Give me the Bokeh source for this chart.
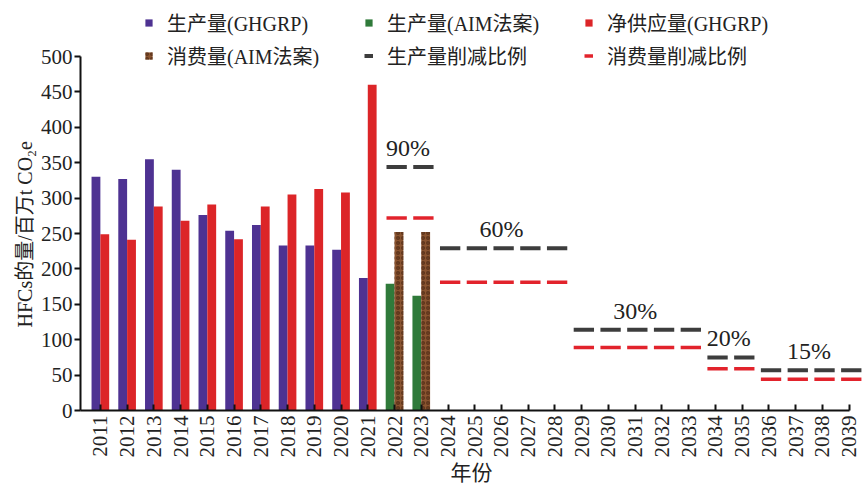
import numpy as np
from bokeh.plotting import figure
from bokeh.models import Range1d, Legend, LegendItem, FixedTicker, ColumnDataSource, Title
from bokeh.transform import dodge
from bokeh.core.properties import value
from bokeh.embed import file_html
from bokeh.resources import INLINE

# ---------------- data ----------------
years_hist = [2011, 2012, 2013, 2014, 2015, 2016, 2017, 2018, 2019, 2020, 2021]
prod_ghgrp = [330, 327, 355, 340, 276, 254, 262, 233, 233, 227, 187]
supply_ghgrp = [249, 241, 288, 268, 291, 242, 288, 305, 313, 308, 460]

years_aim = [2022, 2023]
prod_aim = [179, 162]
cons_aim = [252, 252]

cut_years = list(range(2022, 2040))
prod_cut = [344, 344, 229, 229, 229, 229, 229, 114, 114, 114, 114, 114, 75, 75, 57, 57, 57, 57]
cons_cut = [272, 272, 181, 181, 181, 181, 181, 89, 89, 89, 89, 89, 59, 59, 44, 44, 44, 44]

pct_labels = ["90%", "60%", "30%", "20%", "15%"]
pct_first = [2022, 2024, 2029, 2034, 2036]
pct_last = [2023, 2028, 2033, 2035, 2039]

all_years = list(range(2011, 2040))
y_ticks = list(range(0, 501, 50))

# ---------------- styles ----------------
SERIF = "Liberation Serif"
MIX = "Liberation Serif, Noto Sans CJK SC"
PURPLE = "#4e3292"
RED = "#dc2528"
GREEN = "#2f7a3a"
BROWN = "#8a5430"
GRAY = "#3d3d3d"
RED_DASH = "#e2232c"

W, H = 862, 488
BORDER_L, BORDER_B, BORDER_T = 80, 78, 4
frame_h = H - BORDER_B - BORDER_T          # pixels of the plotting frame
px_500 = 354                                # pixels from 0 to 500 on the y axis
y_top = 500 * frame_h / px_500              # frame extends above 500 to host the legend

p = figure(width=W, height=H, output_backend="svg", toolbar_location=None,
           x_range=Range1d(2010.257, 2039.5), y_range=Range1d(0, y_top),
           min_border_left=BORDER_L, min_border_right=0,
           min_border_top=BORDER_T, min_border_bottom=BORDER_B)
p.outline_line_color = None
p.xgrid.visible = False
p.ygrid.visible = False
p.background_fill_color = "white"
p.border_fill_color = "white"

src_hist = ColumnDataSource(dict(year=years_hist, prod=prod_ghgrp, supply=supply_ghgrp))
src_aim = ColumnDataSource(dict(year=years_aim, prod=prod_aim, cons=cons_aim))

r_prod = p.vbar(x=dodge("year", -0.165), top="prod", width=0.33, source=src_hist,
                fill_color=PURPLE, line_color=None)
r_supply = p.vbar(x=dodge("year", 0.165), top="supply", width=0.33, source=src_hist,
                  fill_color=RED, line_color=None)
r_aim = p.vbar(x=dodge("year", -0.165), top="prod", width=0.33, source=src_aim,
               fill_color=GREEN, line_color=None)
r_cons = p.vbar(x=dodge("year", 0.165), top="cons", width=0.33, source=src_aim,
                fill_color=BROWN, line_color=None, hatch_pattern="o",
                hatch_color="#4f2a14", hatch_scale=5, hatch_weight=1.5, hatch_alpha=0.75)

cy = np.array(cut_years, dtype=float)
src_cut = ColumnDataSource(dict(x0=cy - 0.3, x1=cy + 0.46, prod=prod_cut, cons=cons_cut))
r_pcut = p.segment(x0="x0", x1="x1", y0="prod", y1="prod", source=src_cut,
                   line_color=GRAY, line_width=4)
r_ccut = p.segment(x0="x0", x1="x1", y0="cons", y1="cons", source=src_cut,
                   line_color=RED_DASH, line_width=3.5)

# percentage labels
lab_x = [(a + b) / 2 for a, b in zip(pct_first, pct_last)]
lab_y = [prod_cut[cut_years.index(a)] for a in pct_first]
src_lab = ColumnDataSource(dict(x=lab_x, y=lab_y, t=pct_labels))
p.text(x="x", y="y", text="t", source=src_lab, text_align="center",
       text_baseline="alphabetic", y_offset=-19, text_font=value(SERIF),
       text_font_size="24px", text_color="#222222")

# axes
for ax in (p.xaxis[0], p.yaxis[0]):
    ax.axis_line_width = 2
    ax.axis_line_color = "#111111"
    ax.major_tick_line_width = 2
    ax.major_tick_line_color = "#111111"
    ax.minor_tick_line_color = None
    ax.major_label_text_font = SERIF
    ax.major_label_text_color = "#222222"
    ax.axis_label_text_font = MIX
    ax.axis_label_text_font_style = "normal"
    ax.axis_label_text_color = "#222222"

p.xaxis.ticker = FixedTicker(ticks=all_years)
p.xaxis.bounds = (2010.257, 2039)
p.xaxis.major_label_orientation = np.pi / 2
p.xaxis.major_tick_in = 6
p.xaxis.major_tick_out = 0
p.xaxis.major_label_text_font_size = "21px"
p.xaxis.major_label_standoff = 5
p.xaxis.axis_label = "年份"
p.xaxis.axis_label_text_font_size = "21px"
p.xaxis.axis_label_standoff = 0

p.yaxis.ticker = FixedTicker(ticks=y_ticks)
p.yaxis.bounds = (0, 500)
p.yaxis.major_tick_in = 0
p.yaxis.major_tick_out = 6
p.yaxis.major_label_text_font_size = "21px"
p.yaxis.major_label_standoff = 2

ytitle = Title(text="HFCs的量/百万t CO₂e", align="left", offset=83,
               text_font=MIX, text_font_size="20px", text_font_style="normal",
               text_color="#222222", standoff=4)
p.add_layout(ytitle, "left")

legend = Legend(items=[
    LegendItem(label="生产量(GHGRP)", renderers=[r_prod]),
    LegendItem(label="生产量(AIM法案)", renderers=[r_aim]),
    LegendItem(label="净供应量(GHGRP)", renderers=[r_supply]),
    LegendItem(label="消费量(AIM法案)", renderers=[r_cons]),
    LegendItem(label="生产量削减比例", renderers=[r_pcut]),
    LegendItem(label="消费量削减比例", renderers=[r_ccut]),
], orientation="horizontal", ncols=3, location=(64, 340))
legend.label_text_font = MIX
legend.label_text_font_size = "20px"
legend.label_text_color = "#222222"
legend.label_width = 193
legend.label_height = 10
legend.label_standoff = 14
legend.glyph_width = 9
legend.glyph_height = 9
legend.spacing = 4
legend.padding = 0
legend.margin = 0
legend.border_line_color = None
legend.background_fill_alpha = 0
p.add_layout(legend, "center")

open("out.html", "w").write(file_html(p, INLINE))
